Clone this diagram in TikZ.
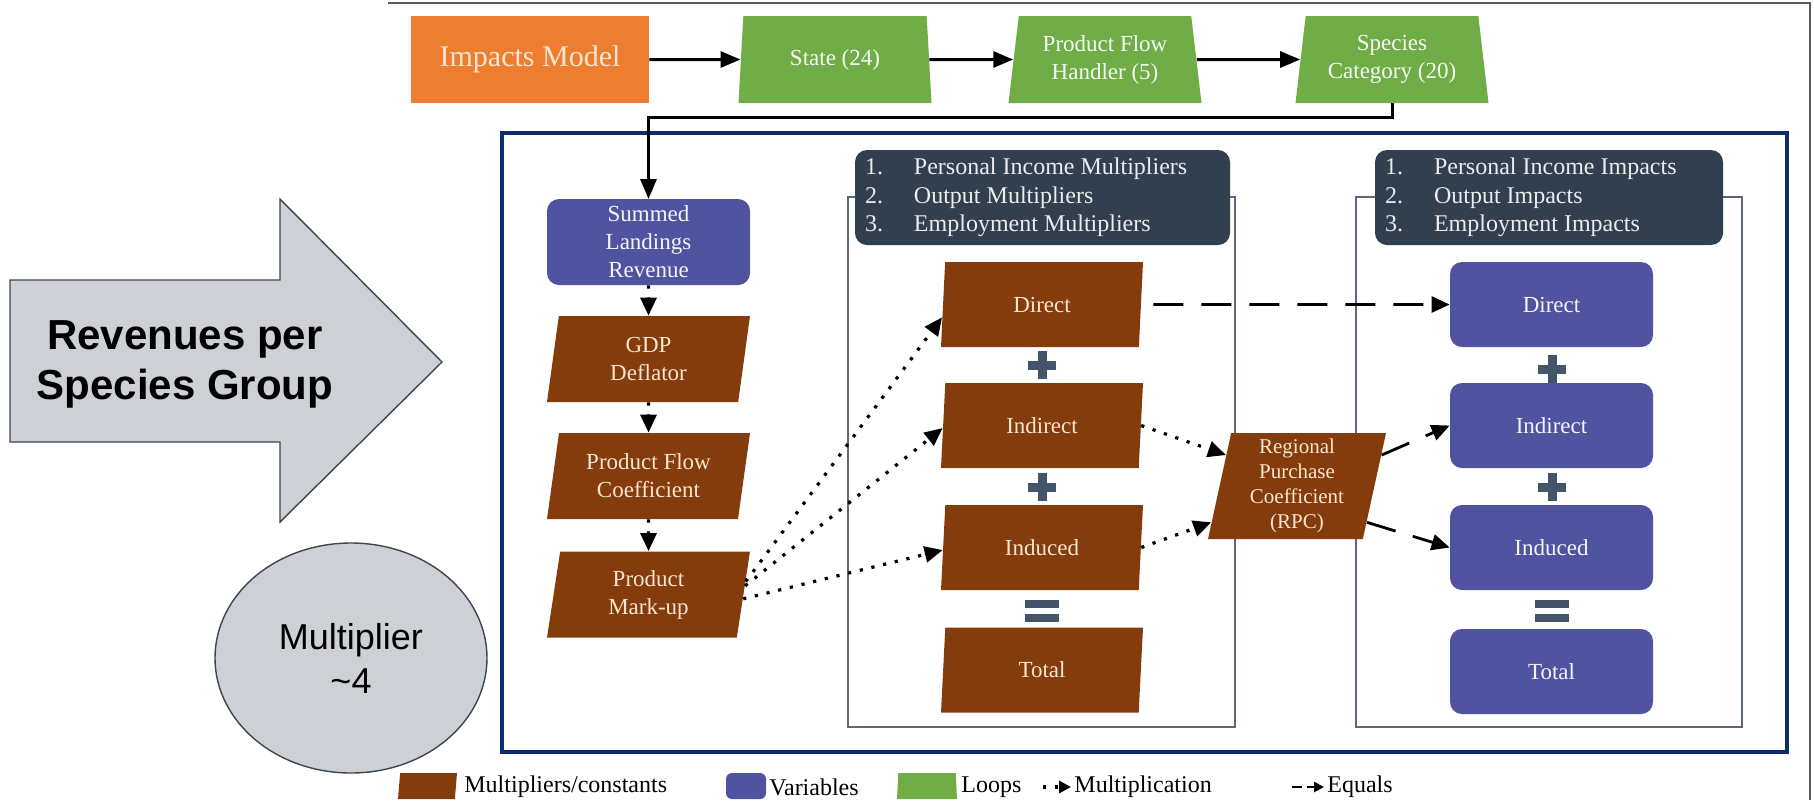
\documentclass[tikz,border=0pt]{standalone}
\usepackage{fontspec}
\setmainfont{Liberation Serif}
\setsansfont{Liberation Sans}
\usetikzlibrary{shapes.geometric,arrows.meta,calc}

\definecolor{imOrange}{HTML}{ED7D31}
\definecolor{imGreen}{HTML}{70AD47}
\definecolor{imBrown}{HTML}{843C0C}
\definecolor{imBlue}{HTML}{50539F}
\definecolor{imSlate}{HTML}{323F4F}
\definecolor{imSign}{HTML}{44546A}
\definecolor{imFrame}{HTML}{5D6878}
\definecolor{imNavy}{HTML}{0F2B6E}
\definecolor{imGrey}{HTML}{CDD0D5}
\definecolor{imEdge}{HTML}{3B4652}
\definecolor{imPeach}{HTML}{FBE5CF}

\tikzset{
    im base/.style={inner sep=1pt, align=center,
                    font=\fontsize{11.5}{14}\selectfont},
    im model/.style={im base, rectangle, fill=imOrange, text=imPeach,
                     minimum width=119pt, minimum height=43.5pt,
                     font=\fontsize{15}{18}\selectfont},
    im loop/.style={im base, trapezium, trapezium left angle=79,
                    trapezium right angle=79, trapezium stretches body=true,
                    fill=imGreen, text=white!94!imGreen,
                    minimum width=96.5pt, minimum height=43.5pt},
    im const/.style={im base, trapezium, trapezium left angle=76,
                     trapezium right angle=104, trapezium stretches body=true,
                     fill=imBrown, text=imPeach,
                     minimum width=101.5pt, minimum height=43pt},
    im mid/.style={trapezium left angle=78, trapezium right angle=102,
                   minimum width=101pt, minimum height=42.5pt},
    im var/.style={im base, rectangle, rounded corners=6pt, fill=imBlue,
                   text=white!94!imBlue,
                   minimum width=101.5pt, minimum height=43pt},
    im head/.style={rectangle, rounded corners=6pt, fill=imSlate,
                    minimum height=47.5pt},
    im list/.style={inner sep=0pt, align=left, text=white!90!imSlate,
                    font=\fontsize{12}{14.3}\selectfont},
    im flow/.style={-{Triangle[length=10pt,width=8pt]}, line width=1.5pt},
    im mult/.style={-{Triangle[length=9pt,width=8pt]}, line width=1.6pt,
                    dash pattern=on 1.6pt off 4.4pt},
    im equal/.style={-{Triangle[length=9pt,width=8pt]}, line width=1.4pt,
                     dash pattern=on 15pt off 9pt},
    im frame/.style={draw=imFrame, line width=1.2pt},
    im callout/.style={fill=imGrey, draw=imEdge, line width=0.7pt},
    im legend/.style={anchor=west, inner sep=0pt,
                      font=\fontsize{12}{14}\selectfont},
}

\newcommand{\plusmark}[2]{%
    \fill[imSign] (#1-14,#2-4.5) rectangle (#1+14,#2+4.5);
    \fill[imSign] (#1-4.5,#2-14) rectangle (#1+4.5,#2+14);}
\newcommand{\equalsmark}[2]{%
    \fill[imSign] (#1-17,#2-11) rectangle (#1+17,#2-3);
    \fill[imSign] (#1-17,#2+3) rectangle (#1+17,#2+11);}

\begin{document}
\begin{tikzpicture}[x=0.5pt, y=-0.5pt]
    \useasboundingbox (0,0) rectangle (1814,800);
    % Slide edge (top and right)
    \draw[gray!70!black, line width=0.8pt] (388,3) -- (1810,3) -- (1810,800);

    % Callout arrow and multiplier bubble
    \draw[im callout] (10,280) -- (280,280) -- (280,199) -- (442,362)
        -- (280,522) -- (280,442) -- (10,442) -- cycle;
    \node[font=\sffamily\bfseries\fontsize{21}{25}\selectfont, align=center]
          (revtxt) at (185,364) {Revenues per\\Species Group};
    \node[im callout, ellipse, minimum width=136pt, minimum height=115pt,
          font=\sffamily\fontsize{18}{22}\selectfont, align=center]
          (mult) at (351,658) {Multiplier\\\textasciitilde4};

    % Loop chain along the top
    \node[im model] (imp) at (530,59.5) {Impacts Model};
    \node[im loop] (state) at (835,59.5) {State (24)};
    \node[im loop] (pfh) at (1105,59.5) {Product Flow\\Handler (5)};
    \node[im loop] (spc) at (1392,59.5) {Species\\Category (20)};
    \draw[im flow] (imp) -- (state);
    \draw[im flow] (state) -- (pfh);
    \draw[im flow] (pfh) -- (spc);

    % Frames
    \draw[imNavy, line width=2pt] (502,133) rectangle (1787,752);
    \draw[im frame] (848,197) rectangle (1235,727);
    \draw[im frame] (1356,197) rectangle (1742,727);
    \node[im head, minimum width=187.5pt] (hmul) at (1042.5,197.5) {};
    \node[im head, minimum width=174pt] (himp) at (1549,197.5) {};
    \node[im list, anchor=west] (hmultxt) at ($(hmul.west)+(10,0)$)
          {\makebox[24.5pt][l]{1.}Personal Income Multipliers\\
           \makebox[24.5pt][l]{2.}Output Multipliers\\
           \makebox[24.5pt][l]{3.}Employment Multipliers};
    \node[im list, anchor=west] (himptxt) at ($(himp.west)+(10,0)$)
          {\makebox[24.5pt][l]{1.}Personal Income Impacts\\
           \makebox[24.5pt][l]{2.}Output Impacts\\
           \makebox[24.5pt][l]{3.}Employment Impacts};

    % Left column
    \draw[im flow] (spc.south) -- ++(0,14) -| (648.5,199);
    \node[im var] (sum) at (648.5,242) {Summed\\Landings\\Revenue};
    \node[im const] (gdp) at (648.5,359) {GDP\\Deflator};
    \node[im const] (pfc) at (648.5,476) {Product Flow\\Coefficient};
    \node[im const] (pmu) at (648.5,594.5) {Product\\Mark-up};
    \draw[im mult] (sum) -- (gdp);
    \draw[im mult] (gdp) -- (pfc);
    \draw[im mult] (pfc) -- (pmu);

    % Multipliers column
    \node[im const, im mid] (mdir) at (1042,304.5) {Direct};
    \node[im const, im mid] (mind) at (1042,425.5) {Indirect};
    \node[im const, im mid] (mindu) at (1042,547.5) {Induced};
    \node[im const, im mid] (mtot) at (1042,670) {Total};
    \plusmark{1042}{365}
    \plusmark{1042}{487}
    \equalsmark{1042}{611}

    % Regional purchase coefficient
    \node[im const, trapezium left angle=76.7, trapezium right angle=103.3,
          minimum width=89pt, minimum height=53pt,
          font=\fontsize{10.5}{12.5}\selectfont]
          (rpc) at (1297,486) {Regional\\Purchase\\Coefficient\\(RPC)};

    % Impacts column
    \node[im var, minimum height=42.5pt] (vdir) at (1551.5,304.5) {Direct};
    \node[im var, minimum height=42.5pt] (vind) at (1551.5,425.5) {Indirect};
    \node[im var, minimum height=42.5pt] (vindu) at (1551.5,547.5) {Induced};
    \node[im var, minimum height=42.5pt] (vtot) at (1551.5,671.5) {Total};
    \plusmark{1552}{369}
    \plusmark{1552}{487}
    \equalsmark{1552}{611}

    % Multiplication links
    \draw[im mult] ($(pmu.bottom right corner)!0.65!(pmu.top right corner)$)
        -- ($(mdir.bottom left corner)!0.35!(mdir.top left corner)$);
    \draw[im mult] ($(pmu.bottom right corner)!0.6!(pmu.top right corner)$)
        -- ($(mind.bottom left corner)!0.47!(mind.top left corner)$);
    \draw[im mult] ($(pmu.bottom right corner)!0.45!(pmu.top right corner)$)
        -- ($(mindu.bottom left corner)!0.47!(mindu.top left corner)$);
    \draw[im mult] ($(mind.bottom right corner)!0.5!(mind.top right corner)$)
        -- ($(rpc.bottom left corner)!0.79!(rpc.top left corner)$);
    \draw[im mult] ($(mindu.bottom right corner)!0.5!(mindu.top right corner)$)
        -- ($(rpc.bottom left corner)!0.16!(rpc.top left corner)$);

    % Equals links
    \draw[im equal, shorten <=6pt]
        ($(mdir.bottom right corner)!0.5!(mdir.top right corner)$) -- (vdir.west);
    \draw[im equal] ($(rpc.bottom right corner)!0.79!(rpc.top right corner)$)
        -- (vind.west);
    \draw[im equal] ($(rpc.bottom right corner)!0.16!(rpc.top right corner)$)
        -- (vindu.west);

    % Legend
    \node[im const, trapezium left angle=62, trapezium right angle=118,
          minimum width=29.5pt, minimum height=13pt] (lgconst) at (427.5,786) {};
    \node[im legend] (lgconsttxt) at (464,787) {Multipliers/constants};
    \node[im var, minimum width=20pt, minimum height=13pt,
          rounded corners=3pt] (lgvar) at (746,786) {};
    \node[im legend] (lgvartxt) at (769,787) {Variables};
    \node[im loop, trapezium left angle=72, trapezium right angle=72,
          minimum width=30pt, minimum height=13pt] (lgloop) at (927,786) {};
    \node[im legend] (lglooptxt) at (961,787) {Loops};
    \coordinate (lgmula) at (1043,787);
    \coordinate (lgmulb) at (1071,787);
    \draw[im mult, -{Triangle[length=6pt,width=6pt]}] (lgmula) -- (lgmulb);
    \node[im legend] (lgmultxt) at (1074,787) {Multiplication};
    \coordinate (lgeqa) at (1292,787);
    \coordinate (lgeqb) at (1324,787);
    \draw[im equal, dash pattern=on 5pt off 2.5pt,
          -{Triangle[length=5pt,width=5pt]}] (lgeqa) -- (lgeqb);
    \node[im legend] (lgeqtxt) at (1327,787) {Equals};
\end{tikzpicture}
\end{document}
